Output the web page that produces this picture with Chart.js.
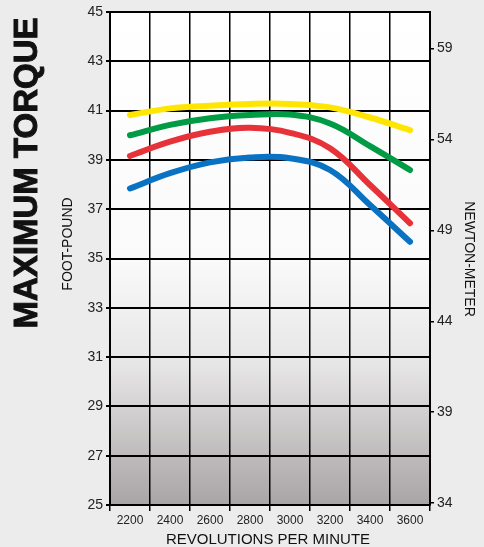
<!DOCTYPE html>
<html>
<head>
<meta charset="utf-8">
<script src="https://cdn.jsdelivr.net/npm/chart.js@4"></script>
<style>
  html, body { margin: 0; padding: 0; background: #ececec; }
  #wrap { width: 484px; height: 547px; }
</style>
</head>
<body>
<div id="wrap"><canvas id="torque" width="484" height="547"></canvas></div>
<script>
const rpm = ["2200", "2400", "2600", "2800", "3000", "3200", "3400", "3600"]
const yellowCurve = [40.82, 41.09, 41.2, 41.27, 41.27, 41.13, 40.72, 40.21]
const greenCurve = [40.0, 40.42, 40.69, 40.82, 40.84, 40.48, 39.56, 38.59]
const redCurve = [39.16, 39.74, 40.14, 40.3, 40.1, 39.47, 37.98, 36.43]
const blueCurve = [37.84, 38.46, 38.9, 39.1, 39.07, 38.59, 37.17, 35.68]
const newtonTicks = [34, 39, 44, 49, 54, 59]
const FT_TO_NM = 1.35582

const font = "'Liberation Sans', Arial, sans-serif"

const bgPlugin = {
    id: "bg",
    beforeDraw(chart) {
        const {ctx, chartArea: a} = chart
        const g = ctx.createLinearGradient(0, a.top, 0, a.bottom)
        g.addColorStop(0, "#ffffff")
        g.addColorStop(0.5, "#fafafa")
        g.addColorStop(0.72, "#e6e5e5")
        g.addColorStop(1, "#a9a4a5")
        ctx.save()
        ctx.fillStyle = g
        ctx.fillRect(a.left, a.top, a.right - a.left, a.bottom - a.top)
        ctx.restore()
    },
    afterDraw(chart) {
        const ctx = chart.ctx
        ctx.save()
        ctx.fillStyle = "#111"
        // main title
        ctx.save()
        ctx.translate(37, 173)
        ctx.rotate(-Math.PI / 2)
        ctx.font = "bold 33px " + font
        ctx.textAlign = "center"
        ctx.fillText("MAXIMUM TORQUE", 0, 0)
        ctx.lineWidth = 1
        ctx.strokeStyle = "#111"
        ctx.strokeText("MAXIMUM TORQUE", 0, 0)
        ctx.restore()
        // left axis title
        ctx.save()
        ctx.translate(72, 244)
        ctx.rotate(-Math.PI / 2)
        ctx.font = "14px " + font
        ctx.textAlign = "center"
        ctx.fillText("FOOT-POUND", 0, 0)
        ctx.restore()
        // right axis title
        ctx.save()
        ctx.translate(465, 259)
        ctx.rotate(Math.PI / 2)
        ctx.font = "14px " + font
        ctx.textAlign = "center"
        ctx.fillText("NEWTON-METER", 0, 0)
        ctx.restore()
        // bottom title
        ctx.font = "15px " + font
        ctx.textAlign = "center"
        ctx.fillText("REVOLUTIONS PER MINUTE", 268, 544)
        ctx.restore()
    }
}

const line = (data, color) => ({
    data: data,
    borderColor: color,
    borderWidth: 6,
    borderCapStyle: "round",
    pointRadius: 0,
    tension: 0.4,
    fill: false,
})

new Chart(document.getElementById("torque"), {
    type: "line",
    data: {
        labels: rpm,
        datasets: [
            line(blueCurve, "#0a72c2"),
            line(redCurve, "#e8323a"),
            line(greenCurve, "#019a45"),
            line(yellowCurve, "#ffe600"),
        ]
    },
    plugins: [bgPlugin],
    options: {
        responsive: false,
        animation: false,
        layout: { padding: { top: 12, left: 0, right: 0, bottom: 0 } },
        plugins: {
            legend: { display: false },
            tooltip: { enabled: false },
        },
        scales: {
            x: {
                offset: true,
                grid: {
                    offset: true,
                    color: "#000",
                    lineWidth: 1.5,
                    tickLength: 6,
                    tickColor: "#000",
                },
                border: { color: "#000", width: 2 },
                ticks: {
                    color: "#222",
                    font: { family: font, size: 12 },
                    padding: 2,
                    maxRotation: 0,
                },
                afterFit(s) { s.height = 42 },
            },
            y: {
                position: "left",
                min: 25,
                max: 45,
                ticks: {
                    stepSize: 2,
                    color: "#222",
                    font: { family: font, size: 14 },
                    padding: 3,
                },
                grid: {
                    color: "#000",
                    lineWidth: 2,
                    tickLength: 4,
                    tickColor: "#000",
                },
                border: { color: "#000", width: 2 },
                afterFit(s) { s.width = 110 },
            },
            nm: {
                position: "right",
                min: 25 * FT_TO_NM,
                max: 45 * FT_TO_NM,
                afterBuildTicks(s) { s.ticks = newtonTicks.map(v => ({ value: v })) },
                ticks: {
                    color: "#222",
                    font: { family: font, size: 14 },
                    padding: 3,
                },
                grid: {
                    drawOnChartArea: false,
                    tickLength: 4,
                    tickColor: "#000",
                    lineWidth: 1.5,
                },
                border: { color: "#000", width: 2 },
                afterFit(s) { s.width = 54 },
            },
        }
    }
})
</script>
</body>
</html>
